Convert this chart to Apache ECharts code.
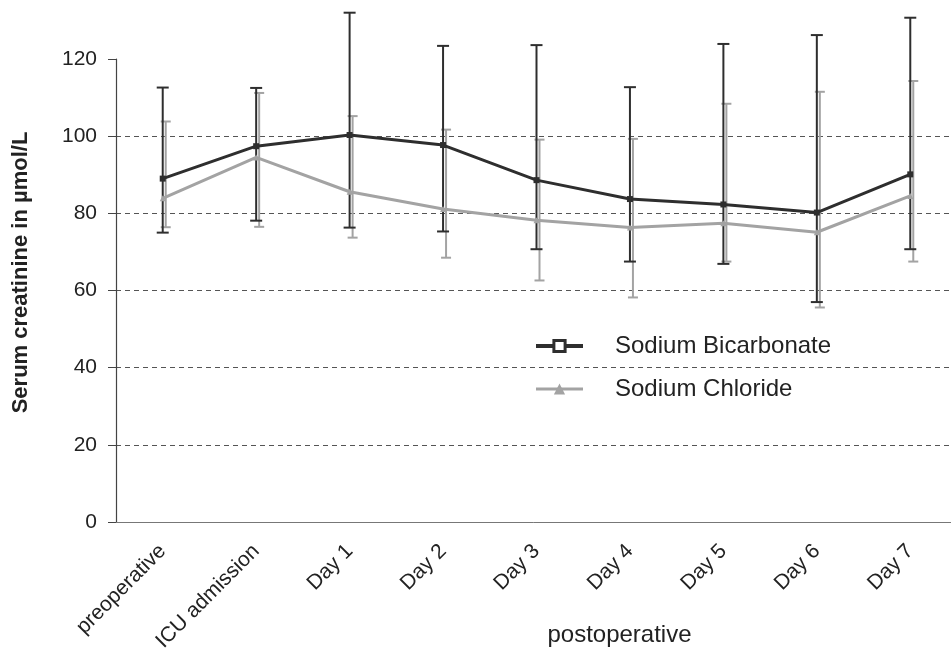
<!DOCTYPE html>
<html><head><meta charset="utf-8">
<script src="https://cdn.jsdelivr.net/npm/echarts@6/dist/echarts.min.js"></script>
<style>html,body{margin:0;padding:0;background:#fff}#c{width:951px;height:672px}</style>
</head><body><div id="c"></div>
<script>
const categories = ['preoperative','ICU admission','Day 1','Day 2','Day 3','Day 4','Day 5','Day 6','Day 7'];
const bicarbMean = [89, 97.4, 100.3, 97.7, 88.6, 83.7, 82.3, 80.2, 90.1];
const bicarbHigh = [112.6, 112.5, 132, 123.4, 123.6, 112.7, 123.9, 126.2, 130.7];
const bicarbLow  = [75, 78.1, 76.3, 75.3, 70.7, 67.5, 66.9, 57, 70.7];
const chlorMean  = [83.9, 94.5, 85.6, 81.1, 78.2, 76.3, 77.4, 75.1, 84.5];
const chlorHigh  = [103.8, 111.2, 105.2, 101.7, 99.1, 99.3, 108.4, 111.5, 114.3];
const chlorLow   = [76.4, 76.5, 73.7, 68.5, 62.6, 58.2, 67.5, 55.6, 67.5];
const yTicks = [0, 20, 40, 60, 80, 100, 120];

const DARK = '#2e2e2e', GRAY = '#a3a3a3';
const FONT = 'Liberation Sans';

function errData(lo, hi){ return categories.map((c,i)=>[i, lo[i], hi[i]]); }
function errSeries(name, lo, hi, color, dx, cap, w){
  return {
    type:'custom', name: name+' err', silent:true, z: 3,
    data: errData(lo, hi),
    renderItem: function(params, api){
      const x = api.value(0);
      const pLo = api.coord([x, api.value(1)]);
      const pHi = api.coord([x, api.value(2)]);
      const cx = pLo[0] + dx;
      const st = {stroke: color, lineWidth: w};
      return {type:'group', children:[
        {type:'line', shape:{x1:cx,y1:pLo[1],x2:cx,y2:pHi[1]}, style:st},
        {type:'line', shape:{x1:cx-cap,y1:pLo[1],x2:cx+cap,y2:pLo[1]}, style:st},
        {type:'line', shape:{x1:cx-cap,y1:pHi[1],x2:cx+cap,y2:pHi[1]}, style:st}
      ]};
    }
  };
}

const chart = echarts.init(document.getElementById('c'));
chart.setOption({
  animation:false,
  textStyle:{fontFamily:FONT},
  grid:{left:116, top:59, width:841, bottom:150, containLabel:false, outerBoundsMode:'none'},
  legend:{
    orient:'vertical', left:534, top:334, padding:0, itemWidth:47, itemHeight:14, itemGap:19,
    textStyle:{fontSize:24, color:'#222', fontFamily:FONT, padding:[0,0,0,27]},
    data:[
      {name:'Sodium Bicarbonate', itemStyle:{color:'#fff', borderColor:DARK, borderWidth:3}, lineStyle:{width:4, color:DARK}},
      {name:'Sodium Chloride', itemStyle:{color:GRAY}, lineStyle:{width:3, color:GRAY}}
    ]
  },
  xAxis:{
    type:'category', data:categories, boundaryGap:true,
    axisLine:{lineStyle:{color:'#777', width:1}},
    axisTick:{alignWithLabel:true, length:11, lineStyle:{color:'#333', width:1.5}},
    axisLabel:{rotate:45, fontSize:21, color:'#222', margin:26, padding:[8,0,0,0], fontFamily:FONT},
    name:'postoperative', nameLocation:'middle', nameGap:101, nameMoveOverlap:false,
    nameTextStyle:{fontSize:24, color:'#222', fontFamily:FONT, padding:[0,0,0,166]}
  },
  yAxis:{
    type:'value', min:0, max:120, interval:20,
    axisLine:{show:true, lineStyle:{color:'#444', width:1.2}},
    axisTick:{show:true, length:8, lineStyle:{color:'#444'}},
    axisLabel:{fontSize:21, color:'#222', margin:19, fontFamily:FONT},
    splitLine:{show:true, showMinLine:false, showMaxLine:false, lineStyle:{color:'#555', type:[5,4], width:1}},
    name:'Serum creatinine in µmol/L', nameLocation:'middle', nameGap:84, nameMoveOverlap:false,
    nameTextStyle:{fontSize:22, fontWeight:'bold', color:'#222', fontFamily:FONT, padding:[0,0,0,36]}
  },
  series:[
    errSeries('Sodium Chloride', chlorLow, chlorHigh, GRAY, 3, 5, 2),
    errSeries('Sodium Bicarbonate', bicarbLow, bicarbHigh, DARK, 0, 6, 2),
    {
      name:'Sodium Chloride', type:'line', data:chlorMean, z:4,
      symbol:'triangle', symbolSize:6, showAllSymbol:true,
      lineStyle:{color:GRAY, width:3}, itemStyle:{color:GRAY}
    },
    {
      name:'Sodium Bicarbonate', type:'line', data:bicarbMean, z:5,
      symbol:'rect', symbolSize:6, showAllSymbol:true,
      lineStyle:{color:DARK, width:3}, itemStyle:{color:DARK}
    }
  ]
});
</script></body></html>
